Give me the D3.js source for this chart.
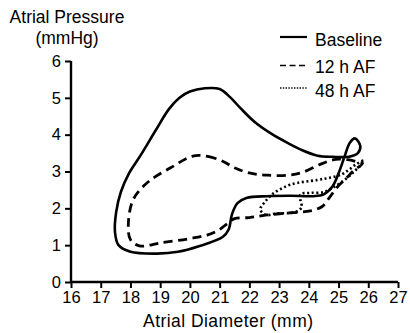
<!DOCTYPE html>
<html>
<head>
<meta charset="utf-8">
<script src="https://cdn.jsdelivr.net/npm/d3@7"></script>
<style>
  html, body { margin: 0; padding: 0; background: #fff; }
  svg { display: block; font-family: Arial, "Liberation Sans", Helvetica, sans-serif; }
</style>
</head>
<body>
<svg id="chart" width="410" height="333"></svg>
<script>
// Pressure–diameter loops: [diameter (mm), pressure (mmHg)], traced in order
const baseline = [
  [24.15, 2.33], [23.4, 2.34], [22.6, 2.33], [21.9, 2.28], [21.6, 2.14],
  [21.42, 1.85], [21.3, 1.42], [21.1, 1.22], [20.3, 0.97], [19.6, 0.82],
  [18.9, 0.77], [18.0, 0.82], [17.6, 1.0], [17.48, 1.35], [17.52, 1.9],
  [17.68, 2.45], [17.95, 2.95], [18.35, 3.45], [18.85, 4.12], [19.3, 4.7],
  [19.65, 5.0], [20.0, 5.17], [20.5, 5.26], [21.0, 5.24], [21.35, 5.02],
  [21.7, 4.72], [22.2, 4.33], [22.75, 4.02], [23.3, 3.77], [23.8, 3.57],
  [24.3, 3.43], [24.8, 3.4], [25.35, 3.4], [25.65, 3.5], [25.73, 3.7],
  [25.55, 3.9], [25.38, 3.78], [25.2, 3.4], [25.0, 2.95], [24.8, 2.6],
  [24.5, 2.38]
];
const af12 = [
  [20.1, 3.42], [20.6, 3.41], [21.1, 3.28], [21.5, 3.1], [22.0, 2.96],
  [22.6, 2.9], [23.3, 2.9], [23.8, 2.98], [24.4, 3.2], [24.9, 3.33],
  [25.3, 3.32], [25.6, 3.27], [25.8, 3.22], [25.5, 3.02], [25.3, 2.85],
  [24.96, 2.58], [24.7, 2.3], [24.45, 2.05], [24.05, 1.93], [23.4, 1.88],
  [22.6, 1.82], [22.0, 1.75], [21.5, 1.72], [21.25, 1.58], [20.95, 1.4],
  [20.6, 1.28], [20.0, 1.18], [19.0, 1.06], [18.3, 0.98], [18.0, 1.15],
  [17.93, 1.6], [18.1, 2.25], [18.6, 2.72], [19.35, 3.1]
];
const af48 = [
  [22.9, 1.86], [22.55, 1.82], [22.37, 1.97], [22.53, 2.18], [22.8, 2.4],
  [23.37, 2.64], [24.28, 2.77], [24.7, 2.83], [25.1, 2.92], [25.35, 3.05],
  [25.6, 3.2], [25.85, 3.3], [25.72, 3.15], [25.5, 2.98], [25.25, 2.8],
  [24.85, 2.58], [24.5, 2.44], [24.05, 2.42], [23.72, 2.38], [23.72, 2.2],
  [23.76, 2.03], [23.55, 1.9]
];

const seriesNames = ["Baseline", "12 h AF", "48 h AF"];
const seriesData = [baseline, af12, af48];
const xTicks = [16, 17, 18, 19, 20, 21, 22, 23, 24, 25, 26, 27];
const yTicks = [0, 1, 2, 3, 4, 5, 6];

const styles = [
  { dash: null, width: 2.6 },
  { dash: "9,5.5", width: 2.8 },
  { dash: "2,2.6", width: 2.6 }
];
const legendStyles = [
  { dash: null, width: 2.2 },
  { dash: "6,3.5", width: 1.6 },
  { dash: "1.4,1.4", width: 1.6 }
];

const svg = d3.select("#chart");
const x = d3.scaleLinear().domain([16, 27]).range([71, 398]);
const y = d3.scaleLinear().domain([0, 6]).range([282, 61]);

// Axes
const xAxis = svg.append("g")
  .attr("transform", `translate(0,${y(0)})`)
  .call(d3.axisBottom(x).tickValues(xTicks).tickSize(6).tickPadding(3).tickFormat(d3.format("d")));
const yAxis = svg.append("g")
  .attr("transform", `translate(${x(16)},0)`)
  .call(d3.axisLeft(y).tickValues(yTicks).tickSize(6).tickPadding(4).tickFormat(d3.format("d")));

[xAxis, yAxis].forEach(g => {
  g.select(".domain").attr("stroke", "#000").attr("stroke-width", 2.4);
  g.selectAll(".tick line").attr("stroke", "#000").attr("stroke-width", 2);
  g.selectAll(".tick text").attr("fill", "#000").style("font-size", "16.5px").style("font-family", "Arial, 'Liberation Sans', sans-serif");
});
xAxis.select(".domain").attr("d", `M${x(16)},0H${x(27)}`);
yAxis.select(".domain").attr("d", `M0,${y(6)}V${y(0)}`);

// Loops
const line = d3.line()
  .x(d => x(d[0]))
  .y(d => y(d[1]))
  .curve(d3.curveCatmullRomClosed.alpha(0.5));

svg.append("g").selectAll("path")
  .data(seriesData)
  .join("path")
  .attr("d", d => line(d))
  .attr("fill", "none")
  .attr("stroke", "#000")
  .attr("stroke-width", (d, i) => styles[i].width)
  .attr("stroke-dasharray", (d, i) => styles[i].dash)
  .attr("stroke-linejoin", "round");

// Axis titles
svg.append("text").attr("x", 67).attr("y", 23).attr("text-anchor", "middle")
  .style("font-size", "17.5px").text("Atrial Pressure");
svg.append("text").attr("x", 67).attr("y", 44).attr("text-anchor", "middle")
  .style("font-size", "17.5px").text("(mmHg)");
svg.append("text").attr("x", 143).attr("y", 327)
  .attr("textLength", 170).attr("lengthAdjust", "spacing")
  .style("font-size", "17.5px").text("Atrial Diameter (mm)");

// Legend
const legendRows = [37, 65.5, 88];
const legendText = [46, 72.5, 96.5];
const lg = svg.append("g");
seriesNames.forEach((name, i) => {
  lg.append("line")
    .attr("x1", 280).attr("x2", 307)
    .attr("y1", legendRows[i]).attr("y2", legendRows[i])
    .attr("stroke", "#000")
    .attr("stroke-width", legendStyles[i].width)
    .attr("stroke-dasharray", legendStyles[i].dash);
  lg.append("text").attr("x", 315).attr("y", legendText[i])
    .style("font-size", "17.5px").text(name);
});
</script>
</body>
</html>
